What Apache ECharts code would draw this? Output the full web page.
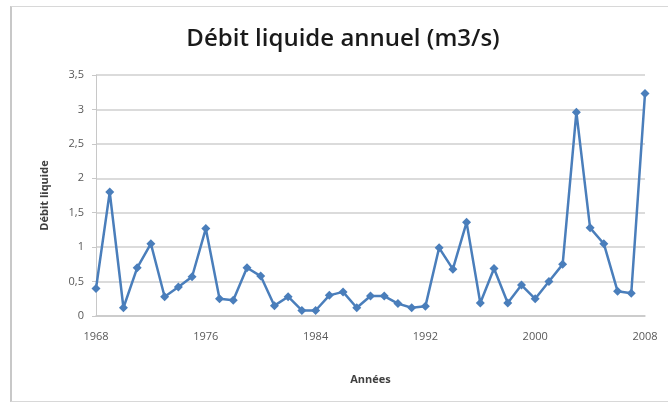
<!DOCTYPE html>
<html>
<head>
<meta charset="utf-8">
<script src="https://cdn.jsdelivr.net/npm/echarts@6/dist/echarts.min.js"></script>
<style>
  html, body { margin: 0; padding: 0; background: #fff; }
  #frame { position: absolute; left: 10px; top: 6px; width: 668px; height: 396px; border-left: 2px solid #c8c8c8; border-top: 1px solid #d8d8d8; border-bottom: 1px solid #d8d8d8; box-sizing: border-box; }
  #debit { position: absolute; left: 0; top: 0; width: 668px; height: 403px; }
</style>
</head>
<body>
<div id="frame"></div>
<div id="debit"></div>
<script>
// années 1968 -> 2008
const years = [];
for (let y = 1968; y <= 2008; y++) years.push(String(y));

// débit liquide annuel (m3/s)
const debit = [
  0.40, 1.80, 0.12, 0.70, 1.05, 0.28, 0.42, 0.57, 1.27, 0.25,
  0.23, 0.70, 0.58, 0.15, 0.28, 0.08, 0.08, 0.30, 0.35, 0.12,
  0.29, 0.29, 0.18, 0.12, 0.14, 0.99, 0.68, 1.36, 0.19, 0.69,
  0.19, 0.45, 0.25, 0.50, 0.75, 2.96, 1.28, 1.05, 0.36, 0.33,
  3.23
];

const yTicks = ["0", "0,5", "1", "1,5", "2", "2,5", "3", "3,5"];

let chart = echarts.init(document.getElementById("debit"));
let option = {
  animation: false,
  title: {
    text: "Débit liquide annuel (m3/s)",
    top: 27,
    left: 343,
    textAlign: "center",
    padding: 0,
    textStyle: {
      fontFamily: "Open Sans",
      fontSize: 24,
      fontWeight: 600,
      color: "#1a1a1a"
    }
  },
  grid: { left: 96, right: 23, top: 75, bottom: 87 },
  xAxis: {
    type: "category",
    data: years,
    boundaryGap: false,
    name: "Années",
    nameLocation: "middle",
    nameGap: 58,
    nameTextStyle: { fontFamily: "Open Sans", fontWeight: "bold", fontSize: 11, color: "#404040" },
    axisLine: { lineStyle: { color: "#c8c8c8", width: 1.5 } },
    axisTick: { show: false },
    axisLabel: {
      interval: 7,
      margin: 15,
      fontFamily: "Open Sans",
      fontSize: 11,
      color: "#595959"
    },
    splitLine: { show: false }
  },
  yAxis: {
    type: "value",
    min: 0,
    max: 3.5,
    interval: 0.5,
    name: "Débit liquide",
    nameLocation: "middle",
    nameGap: 46,
    nameTextStyle: { fontFamily: "Open Sans", fontWeight: "bold", fontSize: 11, color: "#404040" },
    axisLine: { show: true, lineStyle: { color: "#c8c8c8", width: 1 } },
    axisTick: { show: true, length: 4, lineStyle: { color: "#c8c8c8" } },
    axisLabel: {
      margin: 12,
      fontFamily: "Open Sans",
      fontSize: 11,
      color: "#595959",
      formatter: v => yTicks[Math.round(v / 0.5)]
    },
    splitLine: { lineStyle: { color: "#cfcfcf", width: 1.5 } }
  },
  series: [
    {
      type: "line",
      data: debit,
      symbol: "diamond",
      symbolSize: 9,
      showAllSymbol: true,
      lineStyle: { color: "#4a7ebb", width: 2.5 },
      itemStyle: { color: "#4a7ebb" }
    }
  ]
};
chart.setOption(option);
</script>
</body>
</html>
